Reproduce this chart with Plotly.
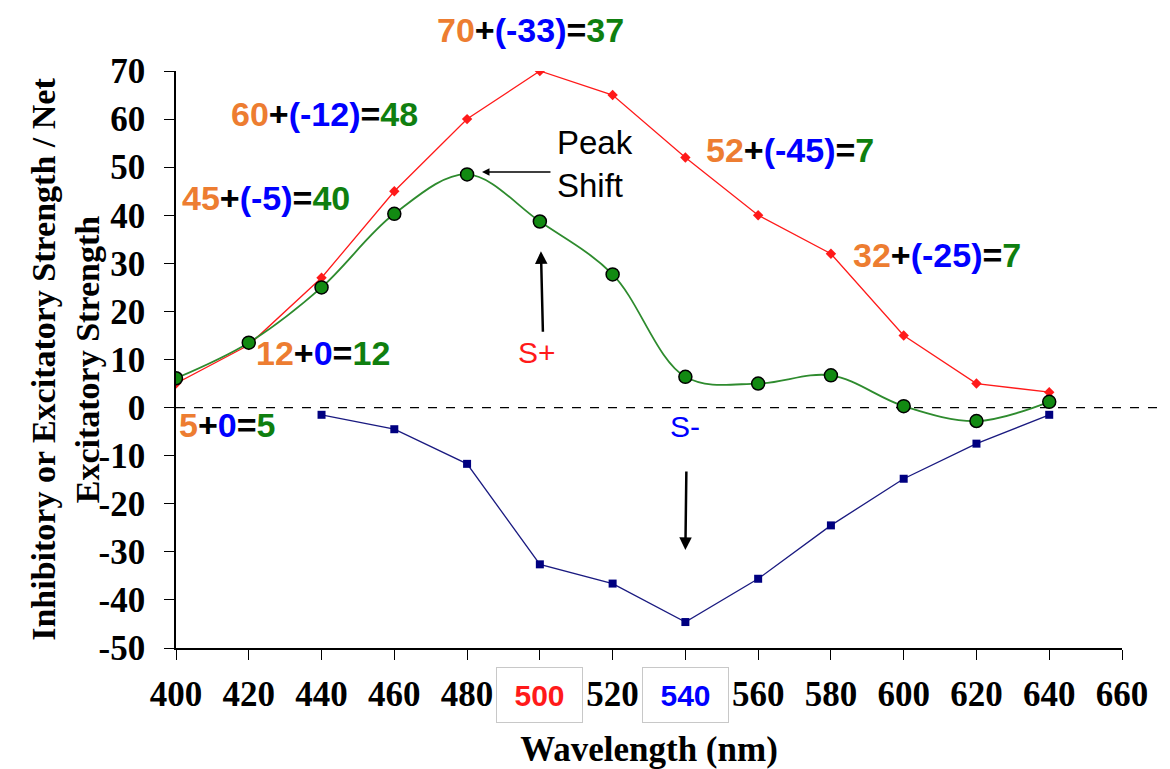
import plotly.graph_objects as go

wavelength = [400, 420, 440, 460, 480, 500, 520, 540, 560, 580, 600, 620, 640]
excitatory = [5, 13, 27, 45, 60, 70, 65, 52, 40, 32, 15, 5, 3.2]
inhib_wl = [440, 460, 480, 500, 520, 540, 560, 580, 600, 620, 640]
inhibitory = [-1.5, -4.5, -11.7, -32.6, -36.6, -44.6, -35.6, -24.5, -14.8, -7.5, -1.5]
net = [6.1, 13.5, 25, 40.3, 48.5, 38.7, 27.7, 6.4, 5.0, 6.7, 0.3, -2.8, 1.2]

x_ticks = [400, 420, 440, 460, 480, 500, 520, 540, 560, 580, 600, 620, 640, 660]
x_ticktext = ["400", "420", "440", "460", "480", "", "520", "", "560", "580", "600", "620", "640", "660"]
y_ticks = [-50, -40, -30, -20, -10, 0, 10, 20, 30, 40, 50, 60, 70]
y_ticktext = ["-50", "-40", "-30", "-20", "-10", "0", "10", "20", "30", "40", "50", "60", "70"]

ORANGE = "#ED7D31"
BLUE = "#0000FF"
GREEN = "#0F7F0F"
RED = "#FF1A1A"

def eq(a, b, c):
    return (f'<b><span style="color:{ORANGE}">{a}</span>+'
            f'<span style="color:{BLUE}">{b}</span>='
            f'<span style="color:{GREEN}">{c}</span></b>')

# (x, y) in data units; the top one sits above the plot so it uses paper y
equations = [
    (440.9, 61.0, eq("60", "(-12)", "48")),
    (424.7, 43.6, eq("45", "(-5)", "40")),
    (568.7, 53.5, eq("52", "(-45)", "7")),
    (609.1, 31.7, eq("32", "(-25)", "7")),
    (440.4, 11.4, eq("12", "0", "12")),
    (414.0, -3.6, eq("5", "0", "5")),
]

EQ_FONT = dict(family="Liberation Sans", size=34, color="black")

fig = go.Figure()

fig.add_trace(go.Scatter(
    x=wavelength, y=excitatory, mode="lines+markers", name="Excitatory",
    line=dict(color=RED, width=1.3),
    marker=dict(symbol="diamond", size=8, color=RED),
))
fig.add_trace(go.Scatter(
    x=inhib_wl, y=inhibitory, mode="lines+markers", name="Inhibitory",
    line=dict(color="#1A1A80", width=1.3),
    marker=dict(symbol="square", size=8, color="#000080"),
))
fig.add_trace(go.Scatter(
    x=wavelength, y=net, mode="lines+markers", name="Net",
    line=dict(color="#2E8B2E", width=1.8, shape="spline", smoothing=1.0),
    marker=dict(symbol="circle", size=13, color="#128A12",
                line=dict(color="black", width=1.5)),
))

annotations = []
annotations.append(dict(
    x=497.5, y=1.0708, xref="x", yref="paper", text=eq("70", "(-33)", "37"),
    showarrow=False, font=EQ_FONT, xanchor="center", yanchor="middle"))
for x, y, t in equations:
    annotations.append(dict(
        x=x, y=y, xref="x", yref="y", text=t, showarrow=False,
        font=EQ_FONT, xanchor="center", yanchor="middle"))

# Peak shift
annotations.append(dict(
    x=504.1, y=50.6, xref="x", yref="y", text="Peak<br>Shift", showarrow=False,
    xanchor="left", yanchor="middle", align="left",
    font=dict(family="Liberation Sans", size=33, color="black")))
annotations.append(dict(
    x=484.1, y=49.0, xref="x", yref="y", text="", showarrow=True,
    ax=70, ay=0, arrowhead=2, arrowsize=1, arrowwidth=1.5, arrowcolor="black"))
# S+
annotations.append(dict(
    x=499.2, y=11.5, xref="x", yref="y", text="S+", showarrow=False,
    font=dict(family="Liberation Sans", size=30, color=RED)))
annotations.append(dict(
    x=500.3, y=32.5, xref="x", yref="y", text="", showarrow=True,
    ax=2, ay=82, arrowhead=2, arrowsize=1, arrowwidth=2.5, arrowcolor="black"))
# S-
annotations.append(dict(
    x=540.0, y=-4.0, xref="x", yref="y", text="S-", showarrow=False,
    font=dict(family="Liberation Sans", size=30, color=BLUE)))
annotations.append(dict(
    x=540.0, y=-29.6, xref="x", yref="y", text="", showarrow=True,
    ax=1, ay=-80, arrowhead=2, arrowsize=1, arrowwidth=2.5, arrowcolor="black"))

# Boxed highlighted tick labels
for val, col in [(500, RED), (540, BLUE)]:
    annotations.append(dict(
        x=val, y=0, xref="x", yref="paper", yanchor="middle", yshift=-47,
        text=f"<b>{val}</b>", showarrow=False, width=81, height=50, borderpad=2,
        bordercolor="#C8C8C8", borderwidth=1,
        font=dict(family="Liberation Sans", size=30, color=col)))

# Y-axis title (two lines, rotated)
annotations.append(dict(
    x=-0.117, y=0.5, xref="paper", yref="paper", textangle=-90,
    text="<b>Inhibitory or Excitatory Strength / Net<br>Excitatory Strength</b>",
    showarrow=False, xanchor="center", yanchor="middle", align="center",
    font=dict(family="Liberation Serif", size=34, color="black")))

fig.update_layout(
    width=1170, height=769,
    margin=dict(l=168, r=56, t=63, b=129),
    paper_bgcolor="white", plot_bgcolor="white",
    showlegend=False,
    annotations=annotations,
    shapes=[dict(type="line", xref="paper", yref="y", x0=0, x1=1.06, y0=0, y1=0,
                 line=dict(color="black", width=1.3, dash="dash"), layer="below")],
)

fig.update_xaxes(
    range=[400, 660], tickvals=x_ticks, ticktext=x_ticktext,
    showline=True, linecolor="black", linewidth=1.5, showgrid=False, zeroline=False,
    ticks="outside", ticklen=10, tickcolor="black", tickwidth=1.2,
    ticklabelstandoff=4,
    tickfont=dict(family="Liberation Serif", size=35, color="black", weight="bold"),
    title=dict(text="<b>Wavelength (nm)</b>", standoff=24,
               font=dict(family="Liberation Serif", size=35, color="black")),
    automargin=False,
)
fig.update_yaxes(
    range=[-50, 70], tickvals=y_ticks, ticktext=y_ticktext,
    showline=True, linecolor="black", linewidth=1.5, showgrid=False, zeroline=False,
    ticks="outside", ticklen=10, tickcolor="black", tickwidth=1.2,
    ticklabelstandoff=12,
    tickfont=dict(family="Liberation Serif", size=35, color="black", weight="bold"),
    automargin=False,
)

fig.write_html("out.html")
